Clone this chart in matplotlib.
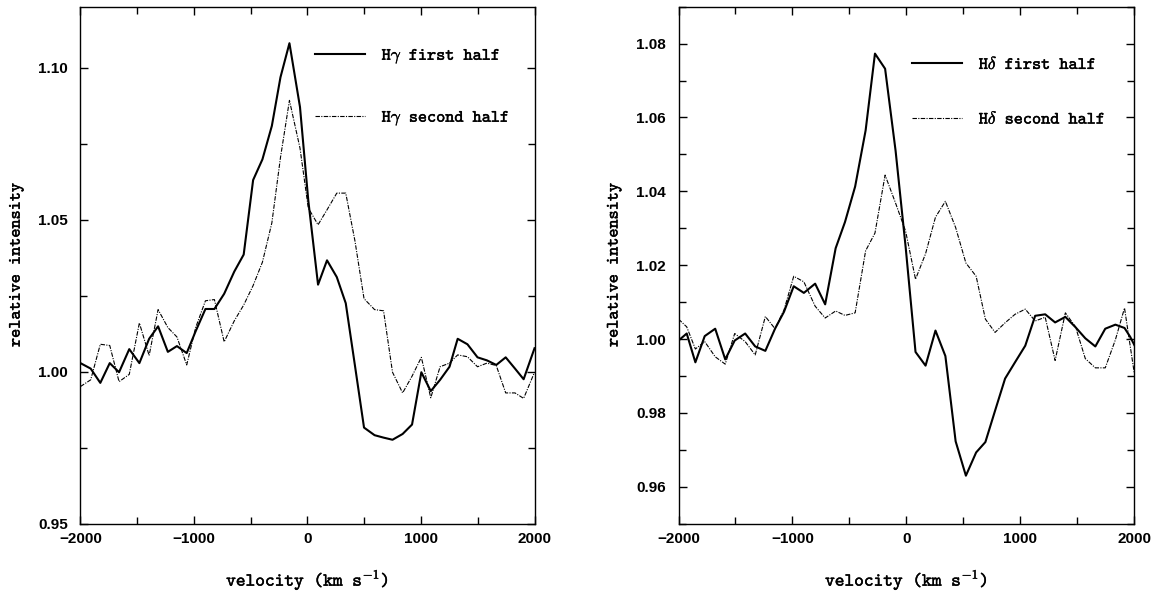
import matplotlib
matplotlib.use("Agg")
import matplotlib.pyplot as plt
import matplotlib.patheffects as pe
from matplotlib.ticker import MultipleLocator, FormatStrFormatter

# H gamma profiles (left panel), velocity in km/s
v_hg = [-2000, -1910, -1825, -1742, -1660, -1570, -1481, -1395, -1316, -1230,
        -1150, -1064, -985, -899, -820, -734, -645, -562, -479, -397,
        -314, -238, -159, -66, 7, 93, 172, 258, 337, 418,
        498, 591, 670, 749, 838, 921, 1003, 1086, 1168, 1251,
        1323, 1409, 1498, 1581, 1663, 1746, 1828, 1904, 2000]
hg_first = [1.0028, 1.0010, 0.9963, 1.0028, 0.9998, 1.0074, 1.0028, 1.0108, 1.0149, 1.0065,
            1.0084, 1.0061, 1.0133, 1.0206, 1.0206, 1.0256, 1.0329, 1.0385, 1.0630, 1.0698,
            1.0808, 1.0968, 1.1080, 1.0870, 1.0563, 1.0286, 1.0366, 1.0311, 1.0225, 1.0020,
            0.9816, 0.9791, 0.9783, 0.9776, 0.9795, 0.9826, 0.9998, 0.9936, 0.9973, 1.0016,
            1.0108, 1.0090, 1.0047, 1.0037, 1.0022, 1.0047, 1.0010, 0.9975, 1.0077]
hg_second = [0.9951, 0.9973, 1.0090, 1.0086, 0.9967, 0.9991, 1.0160, 1.0053, 1.0204, 1.0145,
             1.0114, 1.0022, 1.0145, 1.0233, 1.0237, 1.0098, 1.0167, 1.0219, 1.0283, 1.0360,
             1.0489, 1.0704, 1.0892, 1.0735, 1.0538, 1.0483, 1.0532, 1.0587, 1.0587, 1.0430,
             1.0240, 1.0204, 1.0200, 0.9998, 0.9930, 0.9985, 1.0047, 0.9914, 1.0016, 1.0028,
             1.0055, 1.0049, 1.0016, 1.0028, 1.0020, 0.9930, 0.9930, 0.9912, 0.9998]

# H delta profiles (right panel)
v_hd1 = [-2000, -1928, -1852, -1770, -1678, -1590, -1507, -1415, -1327, -1238,
         -1153, -1074, -989, -900, -801, -713, -621, -539, -450, -358,
         -276, -187, -95, -7, 80, 168, 255, 342, 432, 522,
         612, 693, 778, 866, 953, 1043, 1130, 1218, 1305, 1395,
         1484, 1570, 1658, 1745, 1834, 1914, 1964, 2000]
hd_first = [0.9996, 1.0015, 0.9937, 1.0008, 1.0028, 0.9945, 0.9996, 1.0015, 0.9980, 0.9968,
            1.0028, 1.0074, 1.0143, 1.0125, 1.0150, 1.0094, 1.0246, 1.0317, 1.0413, 1.0565,
            1.0773, 1.0732, 1.0510, 1.0250, 0.9965, 0.9928, 1.0023, 0.9954, 0.9723, 0.9630,
            0.9693, 0.9721, 0.9806, 0.9893, 0.9937, 0.9982, 1.0063, 1.0067, 1.0045, 1.0060,
            1.0032, 1.0002, 0.9980, 1.0028, 1.0039, 1.0030, 1.0006, 0.9984]
v_hd2 = [-2000, -1928, -1852, -1770, -1678, -1590, -1507, -1415, -1327, -1238,
         -1153, -1074, -989, -900, -801, -713, -621, -539, -450, -358,
         -276, -187, -95, -7, 80, 168, 255, 342, 432, 522,
         612, 693, 778, 866, 953, 1043, 1130, 1218, 1305, 1395,
         1484, 1570, 1658, 1745, 1834, 1914, 2000]
hd_second = [1.0054, 1.0033, 0.9973, 0.9993, 0.9952, 0.9932, 1.0015, 0.9993, 0.9957, 1.0061,
             1.0028, 1.0079, 1.0170, 1.0155, 1.0089, 1.0057, 1.0076, 1.0064, 1.0071, 1.0239,
             1.0287, 1.0444, 1.0368, 1.0292, 1.0162, 1.0231, 1.0330, 1.0373, 1.0302, 1.0206,
             1.0170, 1.0054, 1.0018, 1.0044, 1.0067, 1.0081, 1.0049, 1.0059, 0.9942, 1.0071,
             1.0033, 0.9947, 0.9922, 0.9922, 0.9998, 1.0084, 0.9907]

# typewriter font shipped with matplotlib (Computer Modern Typewriter)
tt = ['cmtt10', 'DejaVu Sans Mono']
plt.rcParams['font.family'] = ['Liberation Sans', 'DejaVu Sans']
plt.rcParams['mathtext.fontset'] = 'cm'
# thicken the thin typewriter glyphs a little
heavy = [pe.withStroke(linewidth=0.3, foreground='black')]

fig = plt.figure(figsize=(11.51, 6.10), dpi=100)
ax1 = fig.add_axes([0.0699, 0.1415, 0.3945, 0.8475])
ax2 = fig.add_axes([0.5895, 0.1415, 0.3960, 0.8475])

dash_dot = (0, (4, 1.2, 1, 1.2))

panels = [
    (ax1, v_hg, hg_first, v_hg, hg_second, r'H$\gamma$', (0.95, 1.12), 0.05, 0.025,
     (0.516, 0.922), 2.5),
    (ax2, v_hd1, hd_first, v_hd2, hd_second, r'H$\delta$', (0.95, 1.09), 0.02, 0.01,
     (0.512, 0.903), 2.22),
]

for ax, x1, y1, x2, y2, name, ylim, ymaj, ymin, leg_pos, spacing in panels:
    ax.plot(x1, y1, color='black', lw=1.5, label=name + ' first half')
    ax.plot(x2, y2, color='black', lw=0.8, linestyle=dash_dot, label=name + ' second half')

    ax.set_xlim(-2000, 2000)
    ax.set_ylim(*ylim)
    ax.xaxis.set_major_locator(MultipleLocator(1000))
    ax.xaxis.set_minor_locator(MultipleLocator(500))
    ax.yaxis.set_major_locator(MultipleLocator(ymaj))
    ax.yaxis.set_minor_locator(MultipleLocator(ymin))
    ax.yaxis.set_major_formatter(FormatStrFormatter('%.2f'))
    ax.tick_params(which='both', direction='in', top=True, right=True, width=1.0)
    ax.tick_params(which='major', length=6)
    ax.tick_params(which='minor', length=5)
    ax.tick_params(axis='x', pad=6)
    ax.tick_params(axis='y', pad=9)
    for lab in ax.get_xticklabels() + ax.get_yticklabels():
        lab.set_fontsize(11)
        lab.set_fontweight('bold')
    for sp in ax.spines.values():
        sp.set_linewidth(1.0)

    ax.set_xlabel(r'velocity (km s$^{-1}$)', fontsize=13.3, family=tt,
                  path_effects=heavy)
    ax.set_ylabel('relative intensity', fontsize=12.5, family=tt,
                  path_effects=heavy)
    ax.xaxis.set_label_coords(0.5, -0.085)
    ax.yaxis.set_label_coords(-0.125, 0.5)

    leg = ax.legend(loc='upper left', bbox_to_anchor=leg_pos, frameon=False,
                    prop={'family': tt, 'size': 12.5}, handlelength=2.9,
                    handletextpad=0.95, labelspacing=spacing, borderpad=0,
                    borderaxespad=0)
    for txt in leg.get_texts():
        txt.set_path_effects(heavy)

fig.savefig('out.png', dpi=100)
